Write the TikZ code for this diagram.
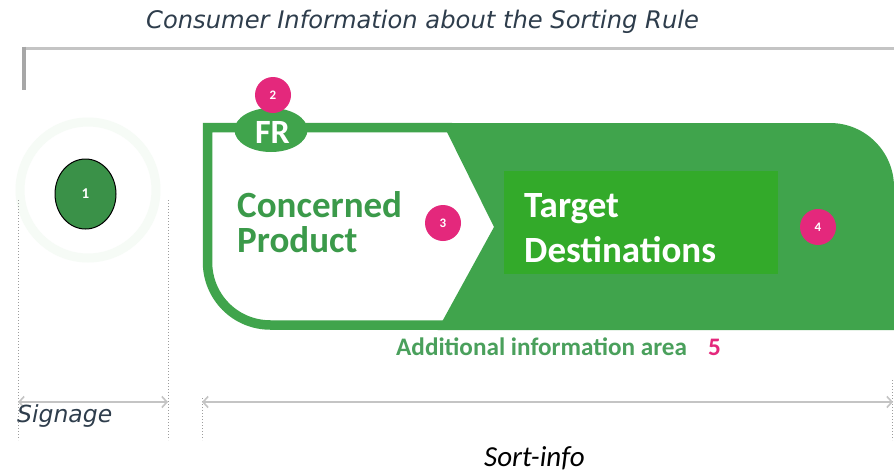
\documentclass[tikz,border=0pt]{standalone}
\usepackage{fontspec}
\setmainfont{Carlito}
\newfontfamily\verd{DejaVu Sans}
\usetikzlibrary{arrows.meta,shapes.geometric}
\definecolor{shapegreen}{HTML}{40A44C}
\definecolor{innergreen}{HTML}{33AA2A}
\definecolor{txtgreen}{HTML}{3B9A4A}
\definecolor{addgreen}{HTML}{4AA05C}
\definecolor{badgepink}{HTML}{E4287C}
\definecolor{slate}{HTML}{2E3D4C}
\definecolor{circgreen}{HTML}{3A9148}
\definecolor{gline}{HTML}{C4C4C4}
\definecolor{ghost}{HTML}{F6FBF6}
\tikzset{
  badge/.style={circle,fill=badgepink,minimum size=36pt,inner sep=0pt,text=white,font=\fontsize{13}{13}\selectfont\bfseries},
  bigtxt/.style={anchor=base west,inner sep=0pt,font=\fontsize{37}{37}\selectfont\bfseries},
  slatetxt/.style={anchor=base west,inner sep=0pt,text=slate,font=\verd\itshape\fontsize{23.5}{23.5}\selectfont},
  guide/.style={gline!80!black,dotted,line width=1pt},
  dimline/.style={gline,line width=1.6pt,{Straight Barb[length=5pt,width=11pt]}-{Straight Barb[length=5pt,width=11pt]}},
}
\begin{document}
\begin{tikzpicture}[x=1pt,y=-1pt]
\useasboundingbox[fill=white] (0,0) rectangle (894,472);
% title
\node[slatetxt,font=\verd\itshape\fontsize{24.2}{24.2}\selectfont] (title) at (146,28.5) {Consumer Information about the Sorting Rule};
% top rule
\coordinate (tl) at (22,48);
\coordinate (tr) at (894,48);
\coordinate (bar) at (23.5,90);
\draw[gline,line width=3pt] (tl) -- (tr);
\draw[gline!85!black,line width=4pt] (23.5,46.5) -- (bar);
% ghost ring
\draw[ghost,line width=9pt] (88,190) circle (68);
% circle 1
\node[ellipse,draw=black,line width=1pt,fill=circgreen,minimum width=61pt,minimum height=70pt,inner sep=0pt,text=white,font=\fontsize{15}{15}\selectfont\bfseries] (c1) at (85.5,194) {1};
% green shape filled part
\fill[shapegreen] (442.5,123) -- (830,123) .. controls (865.3,123) and (894,151.7) .. (894,187) -- (894,330) -- (437.5,330) -- (494,227) -- cycle;
% outline of white part
\draw[shapegreen,line width=9.5pt] (452,127.5) -- (207.5,127.5) -- (207.5,262) .. controls (207.5,296.8) and (235.2,325) .. (270.5,325) -- (452,325);
% inner rectangle
\fill[innergreen] (504,171) rectangle (778,274);
% FR tab
\node[ellipse,fill=shapegreen,minimum width=73pt,minimum height=44pt,inner sep=0pt] (fr) at (271,130) {};
\node[text=white,inner sep=0pt,anchor=base,font=\fontsize{34}{34}\selectfont\bfseries] (frt) at (272.5,143) {FR};
% texts
\node[bigtxt,text=txtgreen] (cp1) at (237,217) {Concerned};
\node[bigtxt,text=txtgreen] (cp2) at (237,252) {Product};
\node[bigtxt,text=white] (td1) at (524,217) {Target};
\node[bigtxt,text=white] (td2) at (524,262) {Destinations};
% badges
\node[badge] (b2) at (273,95) {2};
\node[badge] (b3) at (443,223) {3};
\node[badge] (b4) at (818,227) {4};
% additional info
\node[anchor=base west,inner sep=0pt,text=addgreen,font=\fontsize{25.2}{25.2}\selectfont\bfseries] (add) at (396,355) {Additional information area};
\node[anchor=base west,inner sep=0pt,text=badgepink,font=\fontsize{25.2}{25.2}\selectfont\bfseries] (five) at (708,355) {5};
% guides
\coordinate (g1t) at (18,200); \coordinate (g1b) at (18,440);
\coordinate (g2t) at (168,200); \coordinate (g2b) at (168,440);
\coordinate (g3t) at (202,398); \coordinate (g3b) at (202,440);
\coordinate (g4t) at (892,380); \coordinate (g4b) at (892,440);
\draw[guide] (g1t) -- (g1b);
\draw[guide] (g2t) -- (g2b);
\draw[guide] (g3t) -- (g3b);
\draw[guide] (g4t) -- (g4b);
% dimension arrows
\coordinate (s1) at (18,402); \coordinate (s2) at (168,402);
\coordinate (r1) at (202,402); \coordinate (r2) at (893,402);
\draw[dimline] (s1) -- (s2);
\draw[dimline] (r1) -- (r2);
\node[slatetxt] (sig) at (17,422) {Signage};
\node[anchor=base west,inner sep=0pt,text=black,font=\fontsize{29}{29}\selectfont\itshape] (sort) at (484,466) {Sort-info};
\end{tikzpicture}
\end{document}
